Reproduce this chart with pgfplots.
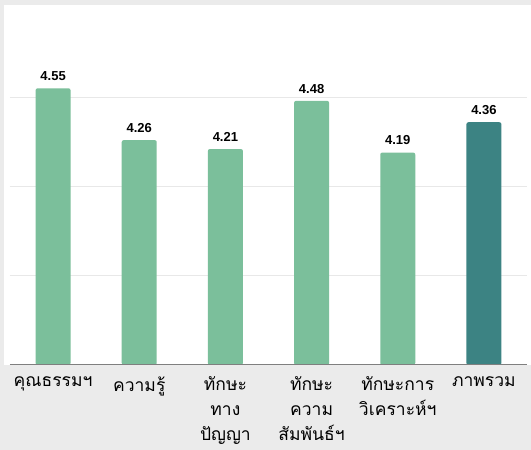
\documentclass[border=0pt]{standalone}
\usepackage{fontspec}
\setmainfont{Liberation Sans}
\newfontfamily\thaifont[Script=Thai]{Loma}
\usepackage{pgfplots}
\pgfplotsset{compat=1.18}
\definecolor{bggray}{HTML}{EBEBEB}
\definecolor{barg}{HTML}{7BBF9B}
\definecolor{bart}{HTML}{3C8383}
\definecolor{gridc}{HTML}{E8E8E8}
\definecolor{basec}{HTML}{7F7F7F}
\begin{document}
\begin{tikzpicture}[x=1pt,y=1pt]
\fill[bggray] (0,0) rectangle (531,450);
\fill[white] (4,85) rectangle (531,445);
\begin{axis}[
  at={(10pt,85pt)}, anchor=south west,
  scale only axis, width=517pt, height=357pt,
  xmin=-0.5, xmax=5.5, ymin=3, ymax=5,
  axis line style={draw=none},
  ytick={3.5,4,4.5}, yticklabels={},
  ymajorgrids, grid style={gridc, line width=1pt},
  major tick length=0pt,
  xtick={0,1,2,3,4,5},
  xticklabels={{คุณธรรมฯ},{ความรู้},{ทักษะ\\ทาง\\ปัญญา},{ทักษะ\\ความ\\สัมพันธ์ฯ},{ทักษะการ\\วิเคราะห์ฯ},{ภาพรวม}},
  xticklabel style={font=\thaifont\fontsize{17.5}{25}\selectfont, align=center, text=black, anchor=north, yshift=-8pt},
  ybar, bar width=35pt, bar shift=0pt,
  point meta=explicit symbolic,
  nodes near coords={\pgfplotspointmeta},
  nodes near coords style={font=\bfseries\fontsize{13}{13}\selectfont, anchor=south, yshift=4pt, text=black},
]
\addplot[fill=barg, draw=none, rounded corners=2pt] coordinates {
  (0,4.55) [4.55]
  (1,4.26) [4.26]
  (2,4.21) [4.21]
  (3,4.48) [4.48]
  (4,4.19) [4.19]
};
\addplot[fill=bart, draw=none, rounded corners=2pt] coordinates {
  (5,4.36) [4.36]
};
\draw[basec, line width=1pt] (axis cs:-0.5,3) -- (axis cs:5.5,3);
\end{axis}
\end{tikzpicture}
\end{document}
